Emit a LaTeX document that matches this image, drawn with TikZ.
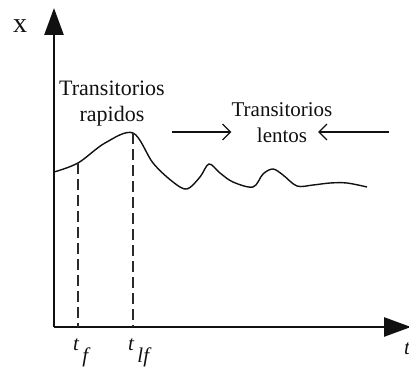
\documentclass[tikz,border=0pt]{standalone}
\usepackage{fontspec}
\setmainfont{Liberation Serif}
\usetikzlibrary{
  arrows.meta,
  positioning,
  calc
}
\definecolor{trInk}{HTML}{111111}
\definecolor{trGuide}{HTML}{2A2A2A}
\newcommand{\trsub}[2]{\textit{#1}\hspace{3pt}\raisebox{-12pt}{\textit{#2}}}
\tikzset{
  traxis/.style={line width=2.6pt, trInk, -{Triangle[length=27pt, width=19pt]}},
  trcurve/.style={line width=1.4pt, trInk},
  trguide/.style={line width=1.4pt, trGuide, dash pattern=on 11pt off 5pt},
  trarrow/.style={line width=1.3pt, trInk, -{Straight Barb[length=8pt, width=16pt]}},
  trtext/.style={font=\fontsize{22}{26}\selectfont, align=center, inner sep=0pt, anchor=north, trInk},
  trtime/.style={font=\fontsize{21}{21}\selectfont, inner sep=0pt, anchor=base west, trInk}
}

\begin{document}
\begin{tikzpicture}[x=1pt, y=-1pt]
  \path[use as bounding box, fill=white] (0,0) rectangle (409,369);
  % ejes
  \coordinate (o) at (54,327);
  \coordinate (xend) at (411,327);
  \coordinate (yend) at (54,8);
  \draw[traxis] (o) -- (xend);
  \draw[traxis] (o) -- (yend);
  \node[font=\fontsize{28}{28}\selectfont, anchor=base, trInk] (xlbl) at (20,33) {x};
  \node[trtime] (tlbl) at (404,354) {\textit{t}};
  % respuesta
  \coordinate (tf) at (78,163);
  \coordinate (tlf) at (133,133);
  \draw[trcurve] plot[smooth, tension=0.55] coordinates {
    (54,172) (tf) (105,143) (tlf) (153,163) (173,182) (187,189)
    (200,177) (209,164) (220,173) (233,182) (253,187) (263,174)
    (273,169) (283,175) (297,186) (313,185) (330,183) (347,183) (367,187)};
  \draw[trguide] (tf) -- (tf |- o);
  \draw[trguide] (tlf) -- (tlf |- o);
  \node[trtime] (tflbl) at ($(tf |- o)+(-5,23)$) {\trsub{t}{f}};
  \node[trtime] (tlflbl) at ($(tlf |- o)+(-5,23)$) {\trsub{t}{lf}};
  % textos
  \node[trtext] (rapid) at (112,81) {Transitorios\\rapidos};
  \node[trtext, font=\fontsize{21}{26}\selectfont] (lento) at (282,102) {Transitorios\\lentos};
  \coordinate (ra) at (172,132);
  \coordinate (lb) at (389,132);
  \coordinate (le) at (318,132);
  \draw[trarrow] (ra) -- (ra -| lento.west);
  \draw[trarrow] (lb) -- (le);
\end{tikzpicture}
\end{document}
